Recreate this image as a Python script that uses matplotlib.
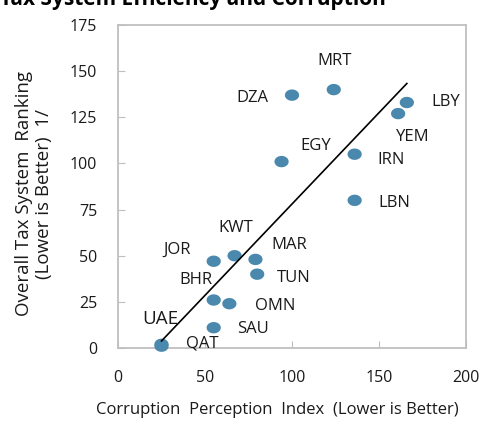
import numpy as np
import matplotlib
matplotlib.use("Agg")
import matplotlib.pyplot as plt
from matplotlib.path import Path

countries = ["MRT", "DZA", "LBY", "YEM", "EGY", "IRN", "LBN", "KWT", "JOR",
             "MAR", "TUN", "BHR", "OMN", "SAU", "UAE", "QAT"]
cpi = [124, 100, 166, 161, 94, 136, 136, 67, 55, 79, 80, 55, 64, 55, 25, 25]
tax_rank = [140, 137, 133, 127, 101, 105, 80, 50, 47, 48, 40, 26, 24, 11, 1, 2]

# label offsets in pixels (dx right, dy up)
offsets = {"MRT": (1, 29), "DZA": (-40, -3), "LBY": (39, 1), "YEM": (15, -23),
           "EGY": (34, 16), "IRN": (36, -6), "LBN": (40, -3), "KWT": (1, 28),
           "JOR": (-37, 11), "MAR": (34, 14), "TUN": (37, -4), "BHR": (-18, 20),
           "OMN": (46, -2), "SAU": (39, -1), "UAE": (-1, 27), "QAT": (41, 1)}

plt.rcParams['font.family'] = ['Open Sans', 'DejaVu Sans']

fig = plt.figure(figsize=(4.83, 4.22), dpi=100)
W, H = 483, 422
l, r, t, b = 118, 466, 25, 348
ax = fig.add_axes([l / W, 1 - b / H, (r - l) / W, (b - t) / H])

theta = np.linspace(0, 2 * np.pi, 40)
ell = Path(np.column_stack([np.cos(theta), 0.8 * np.sin(theta)]))
ax.scatter(cpi, tax_rank, marker=ell, s=105, color='#4a89ad', edgecolors='none', zorder=3, clip_on=False)

slope, intercept = np.polyfit(cpi, tax_rank, 1)
xs = np.array([min(cpi), max(cpi)])
ax.plot(xs, slope * xs + intercept, color='black', lw=1.2, zorder=4)

for c, x, y in zip(countries, cpi, tax_rank):
    dx, dy = offsets[c]
    ax.annotate(c, (x, y), xytext=(dx, dy), textcoords='offset pixels',
                ha='center', va='center', fontsize=13.5 if c == "UAE" else 12, color='#1a1a1a')

ax.set_xlim(0, 200)
ax.set_ylim(0, 175)
ax.set_xticks([0, 50, 100, 150, 200])
ax.set_yticks([0, 25, 50, 75, 100, 125, 150, 175])
for s in ax.spines.values():
    s.set_color('#bfbfbf')
    s.set_linewidth(1.3)
ax.tick_params(direction='in', length=5, color='#bfbfbf', labelsize=11.5, labelcolor='#1a1a1a')
ax.tick_params(axis='x', pad=16)
ax.tick_params(axis='y', pad=15)

fig.text(0.0, 1 - 5 / H, "Tax System Efficiency and Corruption", fontsize=15, fontweight='bold',
         ha='left', va='baseline')
fig.text(277 / W, 1 - 410 / H, "Corruption  Perception  Index  (Lower is Better)",
         fontsize=12, ha='center', va='center', color='#1a1a1a')
fig.text(34 / W, 1 - 194 / H, "Overall Tax System  Ranking\n(Lower is Better)  1/",
         fontsize=13.5, ha='center', va='center', rotation=90, color='#1a1a1a',
         linespacing=1.1)

fig.savefig("out.png", dpi=100)
